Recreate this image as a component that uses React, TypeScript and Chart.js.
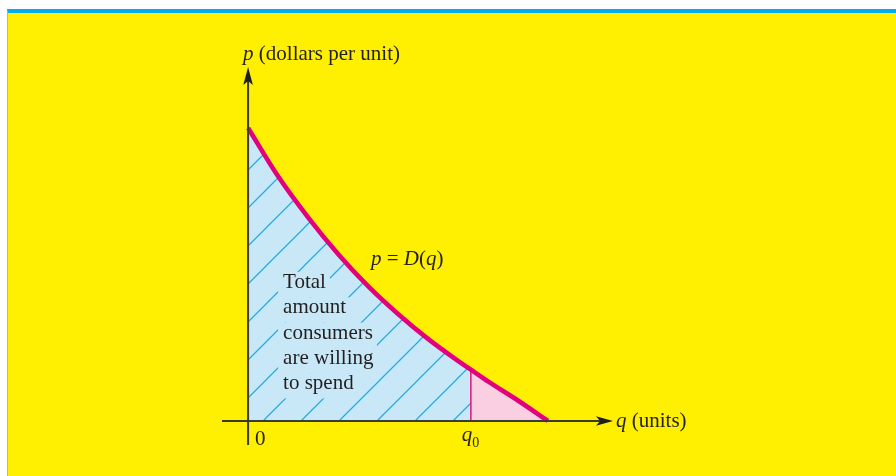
import React, { useEffect, useRef } from "react";
import { Chart, registerables } from "chart.js";

Chart.register(...registerables);

// Demand curve p = D(q), read at whole-unit quantities
const quantities = [0, 1, 2, 3, 4, 5, 6, 7, 8, 9, 10];
const prices = [10, 8.35, 6.95, 5.7, 4.6, 3.65, 2.8, 2.05, 1.35, 0.7, 0];

// Chosen quantity q0 and the price on the curve there
const q0 = 7.43;
const priceAtQ0 = 1.75;

// Text
const yAxisTitle = [["p", true], [" (dollars per unit)", false]] as [string, boolean][];
const xAxisTitle = [["q", true], [" (units)", false]] as [string, boolean][];
const curveLabel = [["p", true], [" = ", false], ["D", true], ["(", false], ["q", true], [")", false]] as [string, boolean][];
const areaLabelLines = ["Total", "amount", "consumers", "are willing", "to spend"];
const originLabel = "0";

// Visible ranges of the two axes (arrow tips / axis tails)
const X_MIN = -0.87;
const X_MAX = 12.17;
const Y_MIN = -0.82;
const Y_MAX = 12.08;

const YELLOW = "#FFEF00";
const MAGENTA = "#E4007C";
const PINK = "#F9CFE1";
const BLUE_FILL = "#C8E8F7";
const HATCH = "#1FADE8";
const AXIS = "#3A3A3A";
const INK = "#231F20";
const FONT = '"Liberation Serif", "Times New Roman", serif';

function makeHatch(ctx: CanvasRenderingContext2D): CanvasPattern | string {
  const size = 38;
  const c = document.createElement("canvas");
  c.width = size;
  c.height = size;
  const g = c.getContext("2d");
  if (!g) return BLUE_FILL;
  g.fillStyle = BLUE_FILL;
  g.fillRect(0, 0, size, size);
  g.strokeStyle = HATCH;
  g.lineWidth = 1.25;
  g.beginPath();
  g.moveTo(-2, size + 2);
  g.lineTo(size + 2, -2);
  g.moveTo(-2, 2);
  g.lineTo(2, -2);
  g.moveTo(size - 2, size + 2);
  g.lineTo(size + 2, size - 2);
  g.stroke();
  return ctx.createPattern(c, "repeat") || BLUE_FILL;
}

function drawRich(
  ctx: CanvasRenderingContext2D,
  parts: [string, boolean][],
  x: number,
  y: number,
  size: number
) {
  let cx = x;
  for (const [txt, italic] of parts) {
    ctx.font = `${italic ? "italic " : ""}${size}px ${FONT}`;
    ctx.fillText(txt, cx, y);
    cx += ctx.measureText(txt).width;
  }
  return cx;
}

const curvePoints = () => {
  const pts = quantities.map((q, i) => ({ x: q, y: prices[i] }));
  const idx = quantities.findIndex((q) => q > q0);
  pts.splice(idx, 0, { x: q0, y: priceAtQ0 });
  return pts;
};

export default function App() {
  const canvasRef = useRef<HTMLCanvasElement | null>(null);

  useEffect(() => {
    const canvas = canvasRef.current;
    if (!canvas) return;
    const ctx = canvas.getContext("2d");
    if (!ctx) return;

    const all = curvePoints();
    const leftPart = all.filter((p) => p.x <= q0);
    const rightPart = all.filter((p) => p.x >= q0);

    // Labels, text backing and axes
    const overlay = {
      id: "overlay",
      afterDatasetDraw(chart: any, args: any) {
        if (args.index !== 0) return;
        const c = chart.ctx as CanvasRenderingContext2D;
        const { x, y } = chart.scales;
        const ox = x.getPixelForValue(0);
        const oy = y.getPixelForValue(0);
        const left = ox + 35;
        const base = oy - 133;
        const lh = 25.3;
        c.save();
        c.font = `21px ${FONT}`;
        c.fillStyle = BLUE_FILL;
        areaLabelLines.forEach((line, i) => {
          const w = c.measureText(line).width;
          c.fillRect(left - 5, base + i * lh - 16, w + 9, lh);
        });
        c.restore();
      },
      afterDatasetsDraw(chart: any) {
        const c = chart.ctx as CanvasRenderingContext2D;
        const { x, y } = chart.scales;
        const ox = x.getPixelForValue(0);
        const oy = y.getPixelForValue(0);
        const xl = x.getPixelForValue(X_MIN);
        const xr = x.getPixelForValue(X_MAX);
        const yt = y.getPixelForValue(Y_MAX);
        const yb = y.getPixelForValue(Y_MIN);
        c.save();
        c.strokeStyle = AXIS;
        c.fillStyle = "#1E1E1E";
        c.lineWidth = 2;
        c.beginPath();
        c.moveTo(xl, oy);
        c.lineTo(xr - 12, oy);
        c.moveTo(ox, yb);
        c.lineTo(ox, yt + 12);
        c.stroke();
        // arrowheads
        c.beginPath();
        c.moveTo(xr, oy);
        c.lineTo(xr - 17, oy - 4.8);
        c.lineTo(xr - 13, oy);
        c.lineTo(xr - 17, oy + 4.8);
        c.closePath();
        c.fill();
        c.beginPath();
        c.moveTo(ox, yt);
        c.lineTo(ox - 4.8, yt + 18);
        c.lineTo(ox, yt + 14);
        c.lineTo(ox + 4.8, yt + 18);
        c.closePath();
        c.fill();

        c.fillStyle = INK;
        c.textBaseline = "alphabetic";
        drawRich(c, yAxisTitle, ox - 5, yt - 7, 21);
        drawRich(c, xAxisTitle, xr + 3, oy + 6, 21);
        c.font = `21px ${FONT}`;
        c.fillText(originLabel, ox + 7, oy + 24);
        const qx = x.getPixelForValue(q0);
        const end = drawRich(c, [["q", true]], qx - 9, oy + 20, 21);
        c.font = `14px ${FONT}`;
        c.fillText("0", end, oy + 26);
        drawRich(c, curveLabel, x.getPixelForValue(4.1), y.getPixelForValue(5.32), 21);

        const left = ox + 35;
        const base = oy - 133;
        c.font = `21px ${FONT}`;
        areaLabelLines.forEach((line, i) => {
          c.fillText(line, left, base + i * 25.3);
        });
        c.restore();
      },
    };

    const chart = new Chart(ctx, {
      type: "line",
      data: {
        datasets: [
          {
            label: "spend",
            data: leftPart,
            borderColor: "rgba(0,0,0,0)",
            backgroundColor: makeHatch(ctx),
            fill: { value: 0 },
            pointRadius: 0,
            cubicInterpolationMode: "monotone",
            order: 3,
          },
          {
            label: "surplus",
            data: rightPart,
            borderColor: "rgba(0,0,0,0)",
            backgroundColor: PINK,
            fill: { value: 0 },
            pointRadius: 0,
            cubicInterpolationMode: "monotone",
            order: 2,
          },
          {
            label: "q0",
            data: [
              { x: q0, y: 0 },
              { x: q0, y: priceAtQ0 },
            ],
            borderColor: MAGENTA,
            borderWidth: 1.4,
            pointRadius: 0,
            fill: false,
            order: 1,
          },
          {
            label: "D(q)",
            data: all,
            borderColor: MAGENTA,
            borderWidth: 4.6,
            borderCapStyle: "butt",
            pointRadius: 0,
            fill: false,
            cubicInterpolationMode: "monotone",
            order: 0,
          },
        ],
      },
      options: {
        animation: false,
        responsive: false,
        devicePixelRatio: 1,
        layout: { padding: { left: 222, right: 283, top: 67, bottom: 31 } },
        scales: {
          x: { type: "linear", min: X_MIN, max: X_MAX, display: false },
          y: { type: "linear", min: Y_MIN, max: Y_MAX, display: false },
        },
        plugins: {
          legend: { display: false },
          tooltip: { enabled: false },
        },
      } as any,
      plugins: [overlay],
    });

    return () => chart.destroy();
  }, []);

  return (
    <div
      style={{
        position: "fixed",
        left: 0,
        top: 0,
        width: 896,
        height: 476,
        background: "#FFFFFF",
        overflow: "hidden",
      }}
    >
      <div
        style={{
          position: "absolute",
          left: 7,
          top: 9,
          right: 0,
          bottom: 0,
          background: YELLOW,
          borderTop: "4px solid #00AEEF",
          borderLeft: "1px solid #6CCDE8",
        }}
      />
      <canvas
        ref={canvasRef}
        width={896}
        height={476}
        style={{ position: "absolute", left: 0, top: 0, width: 896, height: 476 }}
      />
    </div>
  );
}
